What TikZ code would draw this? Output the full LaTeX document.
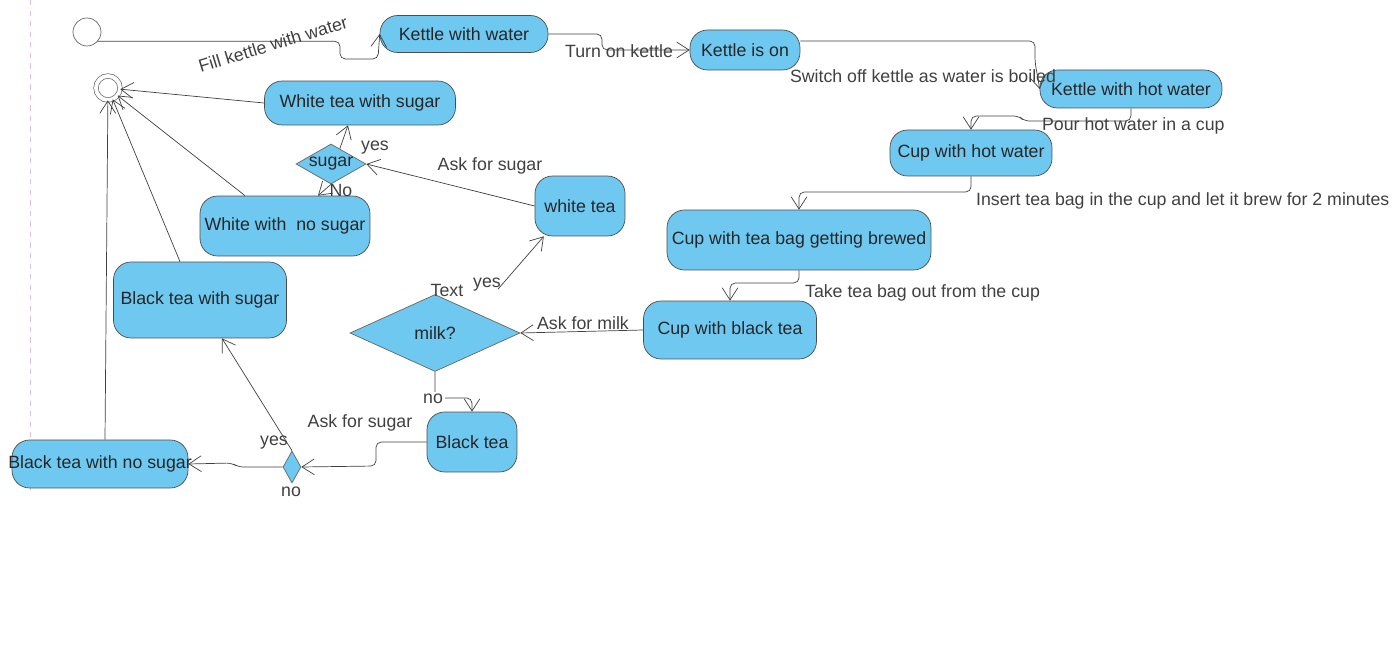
\documentclass[tikz,border=0pt]{standalone}
\usepackage{fontspec}
\setmainfont{Liberation Sans}
\usetikzlibrary{shapes.geometric, arrows.meta}
\definecolor{stateblue}{RGB}{110,200,240}
\tikzset{
    >={Straight Barb[length=7pt,width=9pt]},
    every node/.style={font=\fontsize{10.1}{12}\selectfont},
    act/.style={draw=black!70, fill=stateblue, rounded corners=10pt, inner sep=0pt, text=black!85},
    choice/.style={diamond, draw=black!60, fill=stateblue, inner sep=0pt, text=black!85},
    start/.style={circle, draw=black!60, fill=white, minimum size=0.56cm, inner sep=0pt},
    stop/.style={circle, draw=black!60, double, double distance=2.2pt, minimum size=0.48cm, inner sep=0pt},
    flow/.style={->, draw=black!75, rounded corners=3pt},
    lbl/.style={text=black!75, inner sep=1pt},
    lane/.style={draw=violet!25, dashed},
}

\begin{document}
\begin{tikzpicture}[x=0.02cm, y=-0.02cm]
                \useasboundingbox (0,0) rectangle (1396,648);
                \draw[lane] (30,0) -- (30,495);

                \node[start] (init) at (87,32) {};
                \node[stop] (final) at (108,88) {};
                \node[act, minimum width=3.36cm, minimum height=0.74cm] (kw) at (464,34) {Kettle with water};
                \node[act, minimum width=2.2cm, minimum height=0.8cm] (kon) at (745,50) {Kettle is on};
                \node[act, minimum width=3.64cm, minimum height=0.76cm] (khw) at (1131,89) {Kettle with hot water};
                \node[act, minimum width=3.24cm, minimum height=0.92cm] (chw) at (971,153) {Cup with hot water};
                \node[act, minimum width=5.28cm, minimum height=1.2cm] (cbrew) at (799,240) {Cup with tea bag getting brewed};
                \node[act, minimum width=3.46cm, minimum height=1.16cm] (cblack) at (730,330) {Cup with black tea};
                \node[choice, minimum width=3.4cm, minimum height=1.54cm] (milk) at (435,333) {\makebox[0pt]{milk?}};
                \node[act, minimum width=1.8cm, minimum height=1.2cm] (white) at (580,206) {white tea};
                \node[act, minimum width=1.8cm, minimum height=1.2cm] (black) at (472,442) {Black tea};
                \node[choice, minimum width=1.4cm, minimum height=0.8cm] (sugar) at (331,164) {\makebox[0pt]{sugar}};
                \node[choice, minimum width=0.36cm, minimum height=0.64cm] (sdia) at (292,467) {};
                \node[act, minimum width=3.82cm, minimum height=0.88cm] (wts) at (360,103) {White tea with sugar};
                \node[act, minimum width=3.4cm, minimum height=1.2cm] (wns) at (285,226) {White with\ \ no sugar};
                \node[act, minimum width=3.46cm, minimum height=1.52cm] (bts) at (200,300) {Black tea with sugar};
                \node[act, minimum width=3.52cm, minimum height=0.96cm] (btns) at (100,464) {\makebox[0pt]{Black tea with no sugar}};

                \draw[flow] (init.-40) -| (340,59) -- (378,59) -- (kw.west);
                \node[lbl, rotate=17] (tfill) at (273,44) {Fill kettle with water};
                \draw[flow] (kw.east) -| (602,50) -- (kon.west);
                \node[lbl] (tturn) at (619,51) {Turn on kettle};
                \draw[flow] ([shift={(0,-9)}]kon.east) -| (1035,62) -- (khw.west);
                \node[lbl] (tswitch) at (923,76) {Switch off kettle as water is boiled};
                \draw[flow] (khw.south) |- (1024,121) -- (1019,116) -| (chw.north);
                \node[lbl, anchor=west] (tpour) at (1040,126) {Pour hot water in a cup};
                \draw[flow] (chw.south) |- (799,192) -- (cbrew.north);
                \node[lbl, anchor=west] (tinsert) at (974,201) {Insert tea bag in the cup and let it brew for 2 minutes};
                \draw[flow] (cbrew.south) |- (730,283) -- (cblack.north);
                \node[lbl, anchor=west] (ttake) at (803,293) {Take tea bag out from the cup};
                \draw[flow] (cblack.west) -- (milk.east);
                \node[lbl] (tmilk) at (583,323) {Ask for milk};
                \node[lbl] (ttext) at (447,290) {Text};
                \draw[flow] ([shift={(63,-5)}]milk.north) -- (white.220);
                \node[lbl] (tyes1) at (487,285) {yes};
                \draw[flow] (milk.south) |- (472,398) -- (black.north);
                \node[lbl, fill=white] (tno1) at (433,399) {no};
                \draw[flow] (black.west) -| (376,466) -- (sdia.east);
                \node[lbl] (tsugar1) at (360,423) {Ask for sugar};
                \draw[flow] (sdia.west) -- (238,467) -- (232,463) -- (btns.east);
                \draw[flow] (sdia.north) -- ([shift={(22,0)}]bts.south);
                \node[lbl] (tyes2) at (274,443) {yes};
                \node[lbl] (tno2) at (291,492) {no};
                \draw[flow] ([shift={(-20,0)}]bts.north) -- (final);
                \draw[flow] ([shift={(5,0)}]btns.north) -- (final);
                \draw[flow] ([shift={(-40,0)}]wns.north) -- (final);
                \draw[flow] (wts.west) -- (final);
                \draw[flow] (white.west) -- (sugar.east);
                \node[lbl] (tsugar2) at (490,166) {Ask for sugar};
                \draw[flow] (sugar.60) -- ([shift={(-12,0)}]wts.south);
                \node[lbl] (tyes3) at (375,148) {yes};
                \draw[flow] (sugar.south) -- ([shift={(33,0)}]wns.north);
                \node[lbl] (tno3) at (341,190) {No};
            \end{tikzpicture}
\end{document}
